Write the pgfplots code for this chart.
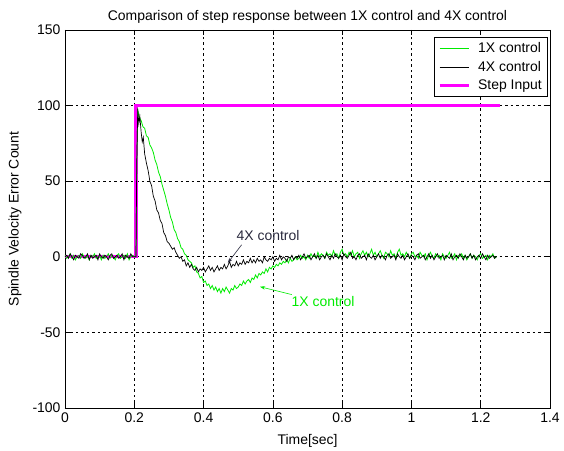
\documentclass[border=0pt]{standalone}
\usepackage{pgfplots}
\pgfplotsset{compat=1.18}
\usepackage{fontspec}
\setmainfont{Liberation Sans}
\usetikzlibrary{arrows.meta}
\definecolor{mygreen}{RGB}{0,235,0}
\definecolor{mymag}{RGB}{255,0,255}
\definecolor{annot}{RGB}{40,40,60}
\begin{document}
\begin{tikzpicture}
\begin{axis}[
  name=ax, at={(0,0)}, anchor=south west,
  scale only axis, width=485bp, height=378bp,
  xmin=0, xmax=1.4, ymin=-100, ymax=150,
  xtick={0,0.2,0.4,0.6,0.8,1,1.2,1.4},
  xticklabels={0,0.2,0.4,0.6,0.8,1,1.2,1.4},
  ytick={-100,-50,0,50,100,150},
  yticklabels={-100,-50,0,50,100,150},
  tick align=inside, major tick length=5bp,
  tick style={black, line width=0.6bp},
  axis line style={black, line width=0.8bp},
  grid=major, grid style={black, line width=0.6bp, dash pattern=on 2.5bp off 3bp},
  ticklabel style={font=\fontsize{14}{16}\selectfont},
  xticklabel style={yshift=-1bp},
  yticklabel style={xshift=-1bp},
  title={Comparison of step response between 1X control and 4X control},
  title style={at={(axis description cs:0.5,1.02)}, anchor=center, font=\fontsize{14}{16}\selectfont},
  xlabel={Time[sec]},
  xlabel style={at={(axis description cs:0.5,-0.087)}, anchor=center, font=\fontsize{14}{16}\selectfont},
  ylabel={Spindle Velocity Error Count},
  ylabel style={at={(axis description cs:-0.103,0.5)}, anchor=center, font=\fontsize{14}{16}\selectfont},
  legend style={at={(rel axis cs:0.996,0.981)}, anchor=north east, draw=black, line width=0.6bp,
    font=\fontsize{14}{16}\selectfont, inner xsep=4bp, inner ysep=3bp, row sep=3bp,
    /tikz/every odd column/.append style={column sep=6bp}},
  legend cell align=left,
  legend image code/.code={\draw[#1] (0bp,0bp) -- (29bp,0bp);},
]
\addplot[color=mymag, line width=3.2bp, forget plot] coordinates {(0,0) (0.205,0) (0.205,100) (1.255,100)};
\addplot[color=mygreen, line width=0.8bp, forget plot] coordinates {
(0.000,1) (0.005,-1) (0.010,0) (0.015,2) (0.020,-1) (0.025,1) (0.030,-2) (0.035,0) (0.040,1) (0.045,-1)
(0.050,2) (0.055,0) (0.060,-1) (0.065,1) (0.070,-2) (0.075,1) (0.080,0) (0.085,2) (0.090,-1) (0.095,0)
(0.100,1) (0.105,-2) (0.110,1) (0.115,-1) (0.120,0) (0.125,2) (0.130,-1) (0.135,1) (0.140,0) (0.145,-2)
(0.150,1) (0.155,2) (0.160,-1) (0.165,0) (0.170,1) (0.175,-1) (0.180,2) (0.185,-2) (0.190,0) (0.195,1)
(0.200,0) (0.205,0) (0.207,60) (0.21,97) (0.215,92) (0.22,90) (0.225,86) (0.23,85) (0.235,80) (0.24,79)
(0.245,74) (0.25,72) (0.255,69) (0.26,64) (0.265,61) (0.27,56) (0.275,53) (0.28,48) (0.285,44) (0.29,40)
(0.295,35) (0.30,31) (0.305,26) (0.31,23) (0.315,18) (0.32,16) (0.325,12) (0.33,10) (0.335,6) (0.34,5)
(0.345,2) (0.35,1) (0.355,-2) (0.36,-3) (0.365,-4) (0.37,-7) (0.375,-6) (0.38,-10) (0.385,-11) (0.39,-14)
(0.395,-13) (0.40,-17) (0.405,-16) (0.41,-19) (0.415,-18) (0.42,-21) (0.425,-19) (0.43,-22) (0.435,-20) (0.44,-23)
(0.445,-21) (0.45,-24) (0.455,-21) (0.46,-23) (0.465,-20) (0.47,-22) (0.475,-24) (0.48,-21) (0.485,-22) (0.49,-19)
(0.495,-21) (0.50,-20) (0.505,-18) (0.51,-19) (0.515,-16) (0.52,-18) (0.525,-16) (0.53,-15) (0.535,-17) (0.54,-14)
(0.545,-15) (0.55,-12) (0.555,-14) (0.56,-11) (0.565,-12) (0.57,-10) (0.575,-11) (0.58,-8) (0.585,-10) (0.59,-7)
(0.595,-8) (0.60,-6) (0.605,-7) (0.61,-5) (0.615,-6) (0.62,-4) (0.625,-5) (0.63,-3) (0.635,-4) (0.64,-2)
(0.645,-4) (0.65,-1) (0.655,-3) (0.66,-2) (0.665,0) (0.67,-2) (0.675,-1) (0.68,1) (0.685,-1) (0.69,0)
(0.695,-2) (0.70,1) (0.705,-1) (0.71,2) (0.715,0) (0.72,1) (0.725,-1) (0.73,3) (0.735,0) (0.74,2)
(0.745,1) (0.75,-1) (0.755,3) (0.76,1) (0.765,2) (0.77,0) (0.775,4) (0.78,1) (0.785,2) (0.79,-1)
(0.795,3) (0.80,5) (0.805,1) (0.81,2) (0.815,0) (0.82,3) (0.825,1) (0.83,4) (0.835,0) (0.84,2)
(0.845,3) (0.85,-1) (0.855,2) (0.86,4) (0.865,1) (0.87,3) (0.875,0) (0.88,2) (0.885,5) (0.89,1)
(0.895,3) (0.90,0) (0.905,2) (0.91,4) (0.915,1) (0.92,-1) (0.925,3) (0.93,2) (0.935,0) (0.94,4)
(0.945,1) (0.95,2) (0.955,-1) (0.96,3) (0.965,5) (0.97,1) (0.975,2) (0.98,0) (0.985,3) (0.99,1)
(0.995,-1) (1.00,2) (1.005,3) (1.01,0) (1.015,1) (1.02,-1) (1.025,3) (1.03,1) (1.035,0) (1.04,2)
(1.045,-2) (1.05,1) (1.055,3) (1.06,0) (1.065,-1) (1.07,2) (1.075,0) (1.08,1) (1.085,-2) (1.09,2)
(1.095,0) (1.10,-1) (1.105,1) (1.11,3) (1.115,-1) (1.12,0) (1.125,2) (1.13,-2) (1.135,1) (1.14,0)
(1.145,2) (1.15,-1) (1.155,1) (1.16,-2) (1.165,0) (1.17,2) (1.175,-1) (1.18,1) (1.185,0) (1.19,-2)
(1.195,1) (1.20,2) (1.205,-1) (1.21,0) (1.215,1) (1.22,-2) (1.225,1) (1.23,0) (1.235,2) (1.24,-1) (1.245,0)};
\addplot[color=black, line width=0.7bp, forget plot] coordinates {
(0.000,0) (0.005,1) (0.010,-1) (0.015,2) (0.020,0) (0.025,-2) (0.030,1) (0.035,0) (0.040,-1) (0.045,2)
(0.050,1) (0.055,-1) (0.060,0) (0.065,2) (0.070,-2) (0.075,1) (0.080,-1) (0.085,0) (0.090,1) (0.095,-2)
(0.100,2) (0.105,0) (0.110,-1) (0.115,1) (0.120,0) (0.125,-2) (0.130,1) (0.135,2) (0.140,-1) (0.145,0)
(0.150,1) (0.155,-1) (0.160,0) (0.165,2) (0.170,-2) (0.175,1) (0.180,0) (0.185,-1) (0.190,2) (0.195,0)
(0.200,0) (0.205,0) (0.207,60) (0.21,98) (0.213,88) (0.216,93) (0.22,82) (0.223,76) (0.226,79) (0.23,68)
(0.235,62) (0.24,57) (0.245,50) (0.25,47) (0.255,40) (0.26,37) (0.265,31) (0.27,29) (0.275,24) (0.28,22)
(0.285,16) (0.29,14) (0.295,10) (0.30,9) (0.305,7) (0.31,5) (0.315,6) (0.32,3) (0.325,1) (0.33,-1)
(0.335,0) (0.34,-3) (0.345,-2) (0.35,-6) (0.355,-4) (0.36,-7) (0.365,-5) (0.37,-8) (0.375,-9) (0.38,-7)
(0.385,-10) (0.39,-8) (0.395,-9) (0.40,-7) (0.405,-10) (0.41,-8) (0.415,-6) (0.42,-9) (0.425,-7) (0.43,-10)
(0.435,-8) (0.44,-6) (0.445,-9) (0.45,-7) (0.455,-8) (0.46,-5) (0.465,-8) (0.47,-6) (0.475,-3) (0.48,-7)
(0.485,-5) (0.49,-6) (0.495,-3) (0.50,-6) (0.505,-4) (0.51,-5) (0.515,-2) (0.52,-5) (0.525,-3) (0.53,-4)
(0.535,-1) (0.54,-4) (0.545,-2) (0.55,-4) (0.555,-1) (0.56,-3) (0.565,-2) (0.57,-4) (0.575,0) (0.58,-2)
(0.585,-3) (0.59,-1) (0.595,-2) (0.60,0) (0.605,-3) (0.61,-1) (0.615,-2) (0.62,1) (0.625,-2) (0.63,0)
(0.635,-1) (0.64,-3) (0.645,0) (0.65,-1) (0.655,1) (0.66,-2) (0.665,0) (0.67,-1) (0.675,1) (0.68,-2)
(0.685,0) (0.69,2) (0.695,-1) (0.70,0) (0.705,1) (0.71,-2) (0.715,0) (0.72,2) (0.725,-1) (0.73,1)
(0.735,-2) (0.74,0) (0.745,1) (0.75,-1) (0.755,2) (0.76,0) (0.765,-2) (0.77,1) (0.775,-1) (0.78,2)
(0.785,0) (0.79,-1) (0.795,1) (0.80,-2) (0.805,2) (0.81,0) (0.815,-1) (0.82,1) (0.825,3) (0.83,-1)
(0.835,0) (0.84,-2) (0.845,1) (0.85,2) (0.855,-1) (0.86,0) (0.865,1) (0.87,-2) (0.875,2) (0.88,0)
(0.885,-1) (0.89,1) (0.895,-2) (0.90,0) (0.905,2) (0.91,-1) (0.915,1) (0.92,0) (0.925,-2) (0.93,1)
(0.935,2) (0.94,-1) (0.945,0) (0.95,1) (0.955,-2) (0.96,2) (0.965,0) (0.97,-1) (0.975,1) (0.98,-2)
(0.985,0) (0.99,2) (0.995,-1) (1.00,1) (1.005,0) (1.01,-2) (1.015,1) (1.02,2) (1.025,-1) (1.03,0)
(1.035,1) (1.04,-2) (1.045,0) (1.05,2) (1.055,-1) (1.06,1) (1.065,-2) (1.07,0) (1.075,2) (1.08,-1)
(1.085,0) (1.09,1) (1.095,-2) (1.10,1) (1.105,0) (1.11,-1) (1.115,2) (1.12,-2) (1.125,0) (1.13,1)
(1.135,-1) (1.14,2) (1.145,0) (1.15,-2) (1.155,1) (1.16,-1) (1.165,0) (1.17,2) (1.175,-1) (1.18,1)
(1.185,-2) (1.19,0) (1.195,1) (1.20,-1) (1.205,2) (1.21,0) (1.215,-2) (1.22,1) (1.225,-1) (1.23,0)
(1.235,1) (1.24,-1) (1.245,0)};
\addlegendimage{color=mygreen, line width=0.8bp}
\addlegendentry{1X control}
\addlegendimage{color=black, line width=0.7bp}
\addlegendentry{4X control}
\addlegendimage{color=mymag, line width=3.2bp}
\addlegendentry{Step Input}
\draw[annot, line width=0.6bp, -{Stealth[length=5bp,width=3.5bp]}] (axis cs:0.51,8) -- (axis cs:0.47,-4);
\node[text=annot, font=\fontsize{14}{16}\selectfont] at (axis cs:0.586,14.4) {4X control};
\draw[mygreen, line width=0.6bp, -{Stealth[length=5bp,width=3.5bp]}] (axis cs:0.655,-25) -- (axis cs:0.563,-19.8);
\node[text=mygreen, font=\fontsize{14}{16}\selectfont] at (axis cs:0.745,-29.7) {1X control};
\end{axis}
\pgfresetboundingbox
\path (-65bp,-43bp) rectangle (499bp,408bp);
\end{tikzpicture}
\end{document}
